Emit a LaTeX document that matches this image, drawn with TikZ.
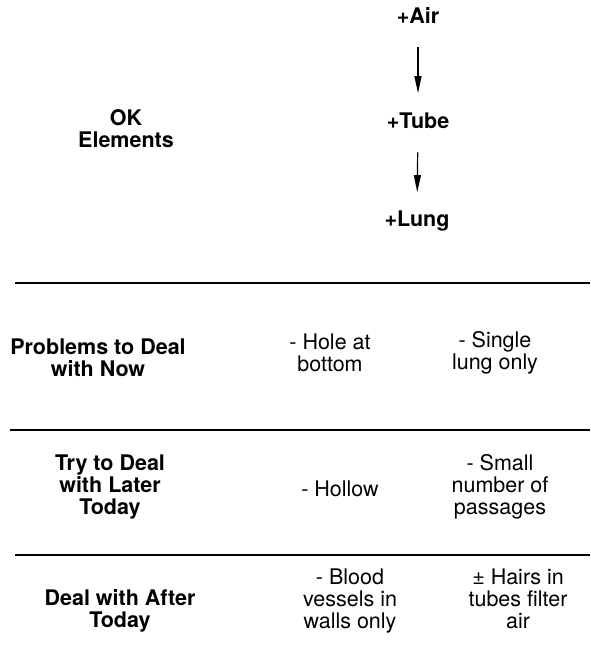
\documentclass[tikz,border=0pt]{standalone}
\usepackage{fontspec}
\setmainfont{TeX Gyre Heros}
\usetikzlibrary{arrows.meta}
\begin{document}
\begin{tikzpicture}[x=1pt,y=1pt,
  lbl/.style={inner sep=0pt,align=center,font=\fontsize{21.5}{22}\selectfont},
  hdr/.style={lbl,font=\fontsize{21.5}{22}\selectfont\bfseries},
  rule/.style={line width=1.5pt},
  flow/.style={line width=1.2pt,-{Triangle[length=17pt,width=7pt]}}]
\useasboundingbox (0,0) rectangle (590,-657);
% top flow
\node[hdr,anchor=base] (air) at (418,-23) {+Air};
\node[hdr,anchor=base] (tube) at (418,-128) {+Tube};
\node[hdr,anchor=base] (lung) at (417,-226) {+Lung};
\draw[flow,shorten <=24pt,shorten >=19pt] (air.south) -- (tube.north);
\draw[flow,shorten <=24pt,shorten >=18pt] (tube.south) -- (lung.north);
\node[hdr] (ok) at (126,-128.3) {OK\\Elements};
% rules
\coordinate (r1a) at (15,-283); \coordinate (r1b) at (590,-283);
\coordinate (r2a) at (10,-430); \coordinate (r2b) at (590,-430);
\coordinate (r3a) at (15,-555); \coordinate (r3b) at (590,-555);
\draw[rule] (r1a) -- (r1b);
\draw[rule] (r2a) -- (r2b);
\draw[rule] (r3a) -- (r3b);
% row 1
\node[hdr] (p1) at (98,-358) {Problems to Deal\\with Now};
\node[lbl] (p1a) at (330,-353) {- Hole at\\bottom};
\node[lbl] (p1b) at (495,-353) {- Single\\lung only};
% row 2
\node[hdr] (p2) at (110,-487) {Try to Deal\\with Later\\Today};
\node[lbl] (p2a) at (340,-489) {- Hollow};
\node[lbl] (p2b) at (500,-487) {- Small\\number of\\passages};
% row 3
\node[hdr] (p3) at (120,-611) {Deal with After\\Today};
\node[lbl] (p3a) at (350,-601) {- Blood\\vessels in\\walls only};
\node[lbl] (p3b) at (518,-599) {± Hairs in\\tubes filter\\air};
\end{tikzpicture}
\end{document}
